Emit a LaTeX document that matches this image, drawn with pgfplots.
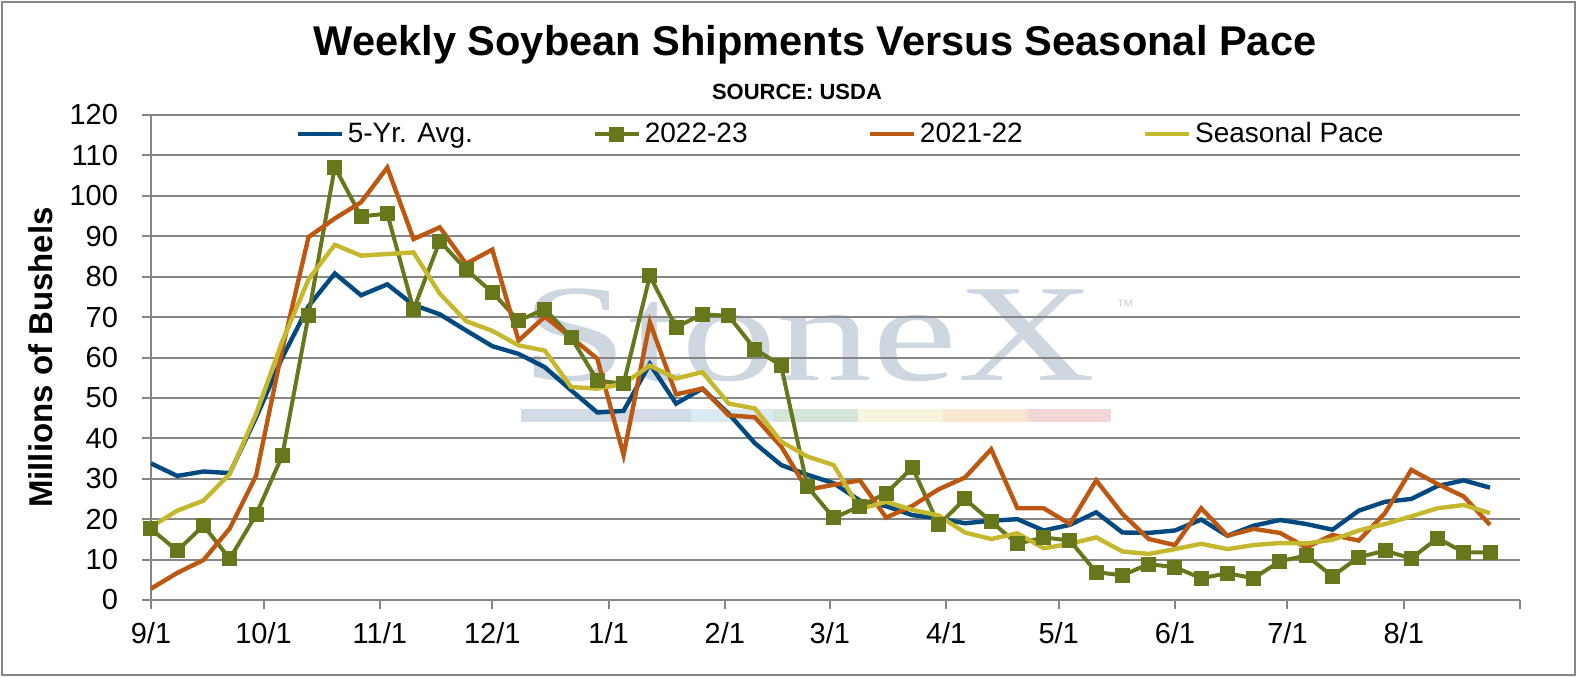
\documentclass[border=0pt]{standalone}
\usepackage{fontspec}
\setmainfont{Liberation Sans}
\newfontfamily\wmfont{Liberation Serif}
\usepackage{pgfplots}
\pgfplotsset{compat=1.18}
\definecolor{cblue}{RGB}{0,74,127}
\definecolor{cgreen}{RGB}{102,119,28}
\definecolor{corange}{RGB}{188,88,18}
\definecolor{cyellow}{RGB}{197,183,46}
\definecolor{axgray}{RGB}{134,134,134}
\definecolor{wmgray}{RGB}{206,214,223}
\definecolor{wb1}{RGB}{211,220,230}
\definecolor{wb2}{RGB}{220,234,243}
\definecolor{wb3}{RGB}{213,229,218}
\definecolor{wb4}{RGB}{248,245,222}
\definecolor{wb5}{RGB}{248,230,211}
\definecolor{wb6}{RGB}{242,214,216}

\pgfplotstableread{
x avg y2223 y2122 pace
0 33.8 17.6 2.8 18.1
1 30.7 12.2 6.7 22.1
2 31.8 18.4 9.9 24.6
3 31.4 10.2 17.7 31.2
4 45.1 21.1 30.7 46
5 60 35.7 62 64
6 72.7 70.5 89.8 79.3
7 80.8 107.1 94.4 87.9
8 75.4 94.9 98.4 85.2
9 78.1 95.6 107 85.6
10 73 71.9 89.3 86
11 70.7 88.8 92.2 75.8
12 66.7 81.8 83.2 69
13 62.8 76.1 86.7 66.6
14 60.9 69.1 64.2 63
15 57.6 72 70.1 61.7
16 51.9 65 65 52.7
17 46.4 54.3 59.7 52.3
18 46.8 53.5 35.9 53.5
19 58.4 80.2 68.7 58
20 48.6 67.5 50.9 54.8
21 52.3 70.7 52.3 56.4
22 46.1 70.3 45.7 48.6
23 38.8 62.1 45.2 47.4
24 33.4 58 38 39.2
25 31 28.1 27.3 35.5
26 28.9 20.3 28.5 33.4
27 24.6 23.2 29.6 22.5
28 23.2 26.4 20.4 24.3
29 21 32.8 23.3 22.3
30 20.2 18.6 27.4 20.9
31 19 25 30.3 16.7
32 19.6 19.4 37.3 15.1
33 20 13.9 22.7 16.5
34 17.2 15.5 22.7 12.8
35 18.6 14.7 18.8 13.9
36 21.7 6.9 29.6 15.5
37 16.7 6.1 21.3 12
38 16.6 8.9 15.1 11.4
39 17.2 8.1 13.6 12.6
40 19.9 5.4 22.7 13.9
41 15.9 6.6 15.9 12.6
42 18.4 5.4 17.6 13.6
43 19.8 9.6 16.6 14.1
44 18.8 11 13 14
45 17.4 5.9 16.1 14.9
46 22.1 10.6 14.7 17.2
47 24.3 12.2 21.5 18.8
48 25 10.3 32.2 20.7
49 28.2 15.3 28.7 22.7
50 29.6 11.8 25.6 23.5
51 27.8 11.8 18.6 21.5
}\datatable

\begin{document}
\begin{tikzpicture}
\useasboundingbox (-75.5pt,-38.5pt) rectangle (713pt,300pt);
\draw[axgray, line width=1pt] (-74.5pt,-37.5pt) rectangle (712pt,299pt);
% watermark
\node[anchor=base west, inner sep=0pt, text=wmgray, xscale=1.45, yscale=1.05, font=\wmfont\fontsize{66}{66}\selectfont] at (185pt,110pt) {StoneX};
\node[anchor=center, inner sep=0pt, text=wmgray, font=\fontsize{9}{9}\selectfont] at (487pt,147pt) {™};
\fill[wb1] (185pt,89pt) rectangle (270pt,95.5pt);
\fill[wb2] (270pt,89pt) rectangle (311pt,95.5pt);
\fill[wb3] (311pt,89pt) rectangle (353.5pt,95.5pt);
\fill[wb4] (353.5pt,89pt) rectangle (396pt,95.5pt);
\fill[wb5] (396pt,89pt) rectangle (438.5pt,95.5pt);
\fill[wb6] (438.5pt,89pt) rectangle (480pt,95.5pt);
% titles
\node[font=\bfseries\fontsize{20.8}{24}\selectfont, inner sep=0pt] at (332pt,277.5pt) {Weekly Soybean Shipments Versus Seasonal Pace};
\node[font=\bfseries\fontsize{11}{13}\selectfont, inner sep=0pt] at (323pt,254pt) {SOURCE: USDA};
\begin{axis}[
  at={(0pt,0pt)}, anchor=south west,
  scale only axis, width=684.5pt, height=242.5pt,
  xmin=0, xmax=52.1429, ymin=0, ymax=120,
  ytick={0,10,...,120},
  xtick={0,4.2857,8.7143,13,17.4286,21.8571,25.8571,30.2857,34.5714,39,43.2857,47.7143,52.1429},
  xticklabels={9/1,10/1,11/1,12/1,1/1,2/1,3/1,4/1,5/1,6/1,7/1,8/1,},
  axis x line*=bottom, axis y line*=left,
  axis line style={axgray, line width=1pt, -},
  tick style={axgray, line width=1pt},
  tick align=outside, major tick length=4.5pt,
  ymajorgrids, grid style={axgray, line width=1pt},
  /pgf/number format/assume math mode=true,
  tick label style={font=\fontsize{14.5}{17}\selectfont},
  yticklabel style={xshift=-8.5pt},
  xticklabel style={yshift=-3pt},
  ylabel={Millions of Bushels},
  every axis y label/.style={at={(axis description cs:-0.0804,0.5)}, rotate=90, anchor=center, font=\bfseries\fontsize{16.5}{19}\selectfont},
  legend columns=4,
  legend style={at={(axis description cs:0.1052,0.9608)}, anchor=west, draw=none, fill=none, inner sep=0pt,
    font=\fontsize{14}{16}\selectfont,
    /tikz/every even column/.append style={column sep=58pt}},
  legend cell align=left,
  legend image code/.code={\draw[mark repeat=2,mark phase=2] plot coordinates {(0pt,0pt) (11pt,0pt) (22pt,0pt)};},
]
\addplot[cblue, line width=2.2pt, no marks] table[x=x,y=avg] {\datatable};
\addlegendentry{5-Yr. Avg.}
\addplot[cgreen, line width=2pt, mark=square*, mark size=3.5pt, mark options={solid, fill=cgreen, draw=cgreen, line width=0pt}] table[x=x,y=y2223] {\datatable};
\addlegendentry{2022-23}
\addplot[corange, line width=2.2pt, no marks] table[x=x,y=y2122] {\datatable};
\addlegendentry{2021-22}
\addplot[cyellow, line width=2.2pt, no marks] table[x=x,y=pace] {\datatable};
\addlegendentry{Seasonal Pace}
\end{axis}
\end{tikzpicture}
\end{document}
